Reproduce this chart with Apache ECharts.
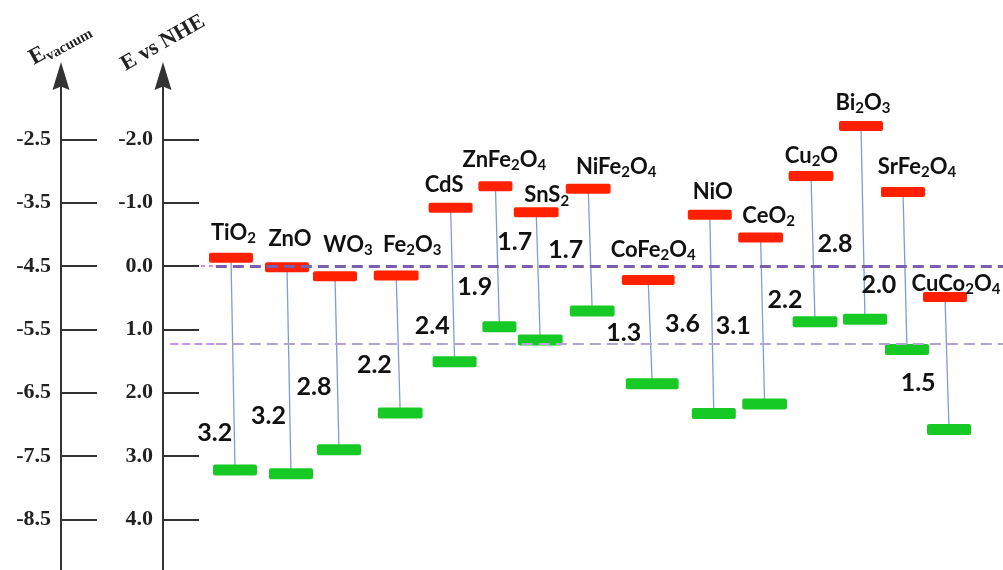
<!DOCTYPE html>
<html>
<head>
<meta charset="utf-8">
<script src="https://cdn.jsdelivr.net/npm/echarts@6/dist/echarts.min.js"></script>
<style>
  html, body { margin: 0; padding: 0; background: #ffffff; }
  #chart { width: 1003px; height: 570px; }
</style>
</head>
<body>
<div id="chart"></div>
<script>
// Semiconductor band edges, energies in eV vs NHE
const materials = ['TiO2', 'ZnO', 'WO3', 'Fe2O3', 'CdS', 'ZnFe2O4', 'SnS2', 'NiFe2O4',
                   'CoFe2O4', 'NiO', 'CeO2', 'Cu2O', 'Bi2O3', 'SrFe2O4', 'CuCo2O4'];
const conductionBand = [-0.13, 0.02, 0.16, 0.15, -0.92, -1.26, -0.85, -1.22,
                        0.22, -0.81, -0.45, -1.42, -2.21, -1.17, 0.49];
const valenceBand = [3.22, 3.28, 2.90, 2.32, 1.51, 0.96, 1.17, 0.71,
                     1.86, 2.33, 2.18, 0.88, 0.84, 1.32, 2.58];
const bandGap = ['3.2', '3.2', '2.8', '2.2', '2.4', '1.9', '1.7', '1.7',
                 '1.3', '3.6', '3.1', '2.2', '2.8', '2.0', '1.5'];
const nheTicks = [-2, -1, 0, 1, 2, 3, 4];
const vacuumTicks = [-2.5, -3.5, -4.5, -5.5, -6.5, -7.5, -8.5];
const hydrogenLevel = 0;      // H+/H2
const oxygenLevel = 1.23;     // O2/H2O

// Layout: horizontal slot of each material, bar span (x units),
// name label offset (px from CB bar), gap label level (eV) and spacing (px from the line)
const slot = [1.75, 3.15, 4.35, 5.88, 7.24, 8.36, 9.38, 10.68, 12.18, 13.72, 14.99, 16.25, 17.5, 18.55, 19.6];
const barSpan = [1.1, 1.1, 1.1, 1.12, 1.1, 0.85, 1.12, 1.12, 1.32, 1.1, 1.12, 1.12, 1.1, 1.1, 1.1];
const nameOffset = [[2.5, -26], [3, -29.5], [13, -32.5], [16, -32], [-6.5, -23.5], [9, -27.5],
                    [10.5, -18], [28, -23], [5, -31.5], [3, -24], [8, -23], [0.5, -21.5],
                    [2, -24.5], [14, -26], [11, -14]];
const gapLabelLevel = [2.64, 2.37, 1.91, 1.57, 0.95, 0.33, -0.38, -0.25, 1.06, 0.91, 0.94, 0.53, -0.35, 0.30, 1.84];
const gapLabelSpace = [2, 4, 6, 7, 4, 6, 5, 7, 9, 12, 12, 12, 11, 9, 12];

const SANS = 'Lato, "Open Sans", sans-serif';
const SERIF = '"Liberation Serif", "DejaVu Serif", serif';

// Chemical formula -> rich text, digits as subscripts
function formula(name) {
  return name.split(/(\d+)/).filter(p => p).map(p => /\d/.test(p) ? '{s|' + p + '}' : '{n|' + p + '}').join('');
}

const formulaRich = {
  n: { fontFamily: SANS, fontWeight: 'bold', fontSize: 22, fill: '#111',
       lineHeight: 26, verticalAlign: 'middle' },
  s: { fontFamily: SANS, fontWeight: 'bold', fontSize: 15, fill: '#111',
       lineHeight: 10, verticalAlign: 'bottom' }
};

function renderBands(params, api) {
  const i = params.dataIndex;
  const x = api.value(0);
  const half = api.size([barSpan[i], 0])[0] / 2;
  const cb = api.coord([x, api.value(1)]);
  const vb = api.coord([x, api.value(2)]);
  cb[0] -= 2; vb[0] += 2;
  const g = api.coord([x, gapLabelLevel[i]]);
  const t = (g[1] - cb[1]) / (vb[1] - cb[1]);
  const lineX = cb[0] + t * (vb[0] - cb[0]);
  return {
    type: 'group',
    children: [
      { type: 'line', shape: { x1: cb[0], y1: cb[1], x2: vb[0], y2: vb[1] },
        style: { stroke: '#7c9fd3', lineWidth: 1.3 } },
      { type: 'rect', shape: { x: cb[0] - half, y: cb[1] - 5, width: half * 2, height: 10, r: 2 },
        style: { fill: '#ff2000' } },
      { type: 'rect', shape: { x: vb[0] - half, y: vb[1] - 5.5, width: half * 2, height: 11, r: 2 },
        style: { fill: '#17c925' } },
      { type: 'text', x: cb[0] + nameOffset[i][0], y: cb[1] + nameOffset[i][1] + 1,
        style: {
          text: formula(materials[i]),
          align: 'center', verticalAlign: 'middle',
          rich: formulaRich
        } },
      { type: 'text', x: lineX - gapLabelSpace[i], y: g[1],
        style: {
          text: bandGap[i], align: 'right', verticalAlign: 'middle',
          fill: '#111', fontFamily: SANS, fontWeight: 'bold', fontSize: 25
        } }
    ]
  };
}

const chart = echarts.init(document.getElementById('chart'), null, { renderer: 'canvas' });

const axisColor = '#333';
const tickLabel = { fontFamily: SERIF, fontWeight: 'bold', fontSize: 22, color: '#222', margin: 10 };
const arrowPath = 'path://M8.5,0 L17,28 L8.5,24.5 L0,28 Z';

chart.setOption({
  animation: false,
  backgroundColor: '#ffffff',
  grid: { left: 163, right: 0, top: 76, bottom: -4 },
  xAxis: { type: 'value', min: 0, max: 21, show: false },
  yAxis: [
    {
      // E vs NHE
      type: 'value', position: 'left', inverse: true,
      min: -3, max: 4.8, interval: 1,
      splitLine: { show: false },
      axisLine: { show: true, lineStyle: { color: axisColor, width: 2 },
                  symbol: ['none', arrowPath], symbolSize: [17, 28] },
      axisTick: { show: true, inside: true, length: 36, customValues: nheTicks,
                  lineStyle: { color: axisColor, width: 2 } },
      axisLabel: Object.assign({ customValues: nheTicks,
                  formatter: v => v.toFixed(1) }, tickLabel)
    },
    {
      // E vacuum
      type: 'value', position: 'left', offset: 102,
      min: -9.3, max: -1.5, interval: 1,
      splitLine: { show: false },
      axisLine: { show: true, onZero: false, lineStyle: { color: axisColor, width: 2 },
                  symbol: ['none', arrowPath], symbolSize: [17, 28] },
      axisTick: { show: true, inside: true, length: 36, customValues: vacuumTicks,
                  lineStyle: { color: axisColor, width: 2 } },
      axisLabel: Object.assign({ customValues: vacuumTicks,
                  formatter: v => v.toFixed(1) }, tickLabel)
    }
  ],
  graphic: [
    { type: 'text', x: 60, y: 44, rotation: 0.5,
      style: { text: '{e|E}{v|vacuum}', align: 'center', verticalAlign: 'middle',
               rich: {
                 e: { fontFamily: SERIF, fontWeight: 'bold', fontSize: 23, fill: '#222',
                      lineHeight: 26, verticalAlign: 'middle' },
                 v: { fontFamily: SERIF, fontWeight: 'bold', fontSize: 15, fill: '#222',
                      lineHeight: 10, verticalAlign: 'bottom' }
               } } },
    { type: 'text', x: 163, y: 43, rotation: 0.52,
      style: { text: 'E vs NHE', align: 'center', verticalAlign: 'middle',
               fontFamily: SERIF, fontWeight: 'bold', fontSize: 22, fill: '#222' } }
  ],
  series: [
    {
      type: 'line', data: [], yAxisIndex: 0, silent: true,
      markLine: {
        silent: true, symbol: 'none', label: { show: false },
        data: [
          [{ coord: [0.95, hydrogenLevel], lineStyle: { color: '#d58af0', width: 2, type: [4, 4] } },
           { coord: [1.3, hydrogenLevel] }],
          [{ coord: [1.32, hydrogenLevel], lineStyle: { color: '#7a5fae', width: 3, type: [11, 6] } },
           { coord: [21, hydrogenLevel] }],
          [{ coord: [0.18, oxygenLevel], lineStyle: { color: '#d08ef0', width: 2, type: [8, 4] } },
           { coord: [1.3, oxygenLevel] }],
          [{ coord: [1.32, oxygenLevel], lineStyle: { color: '#b3a2d6', width: 2, type: [11, 6] } },
           { coord: [21, oxygenLevel] }]
        ]
      }
    },
    {
      type: 'custom', yAxisIndex: 0, clip: false,
      renderItem: renderBands,
      encode: { x: 0, y: [1, 2] },
      data: materials.map((m, i) => [slot[i], conductionBand[i], valenceBand[i]])
    }
  ]
});
</script>
</body>
</html>
